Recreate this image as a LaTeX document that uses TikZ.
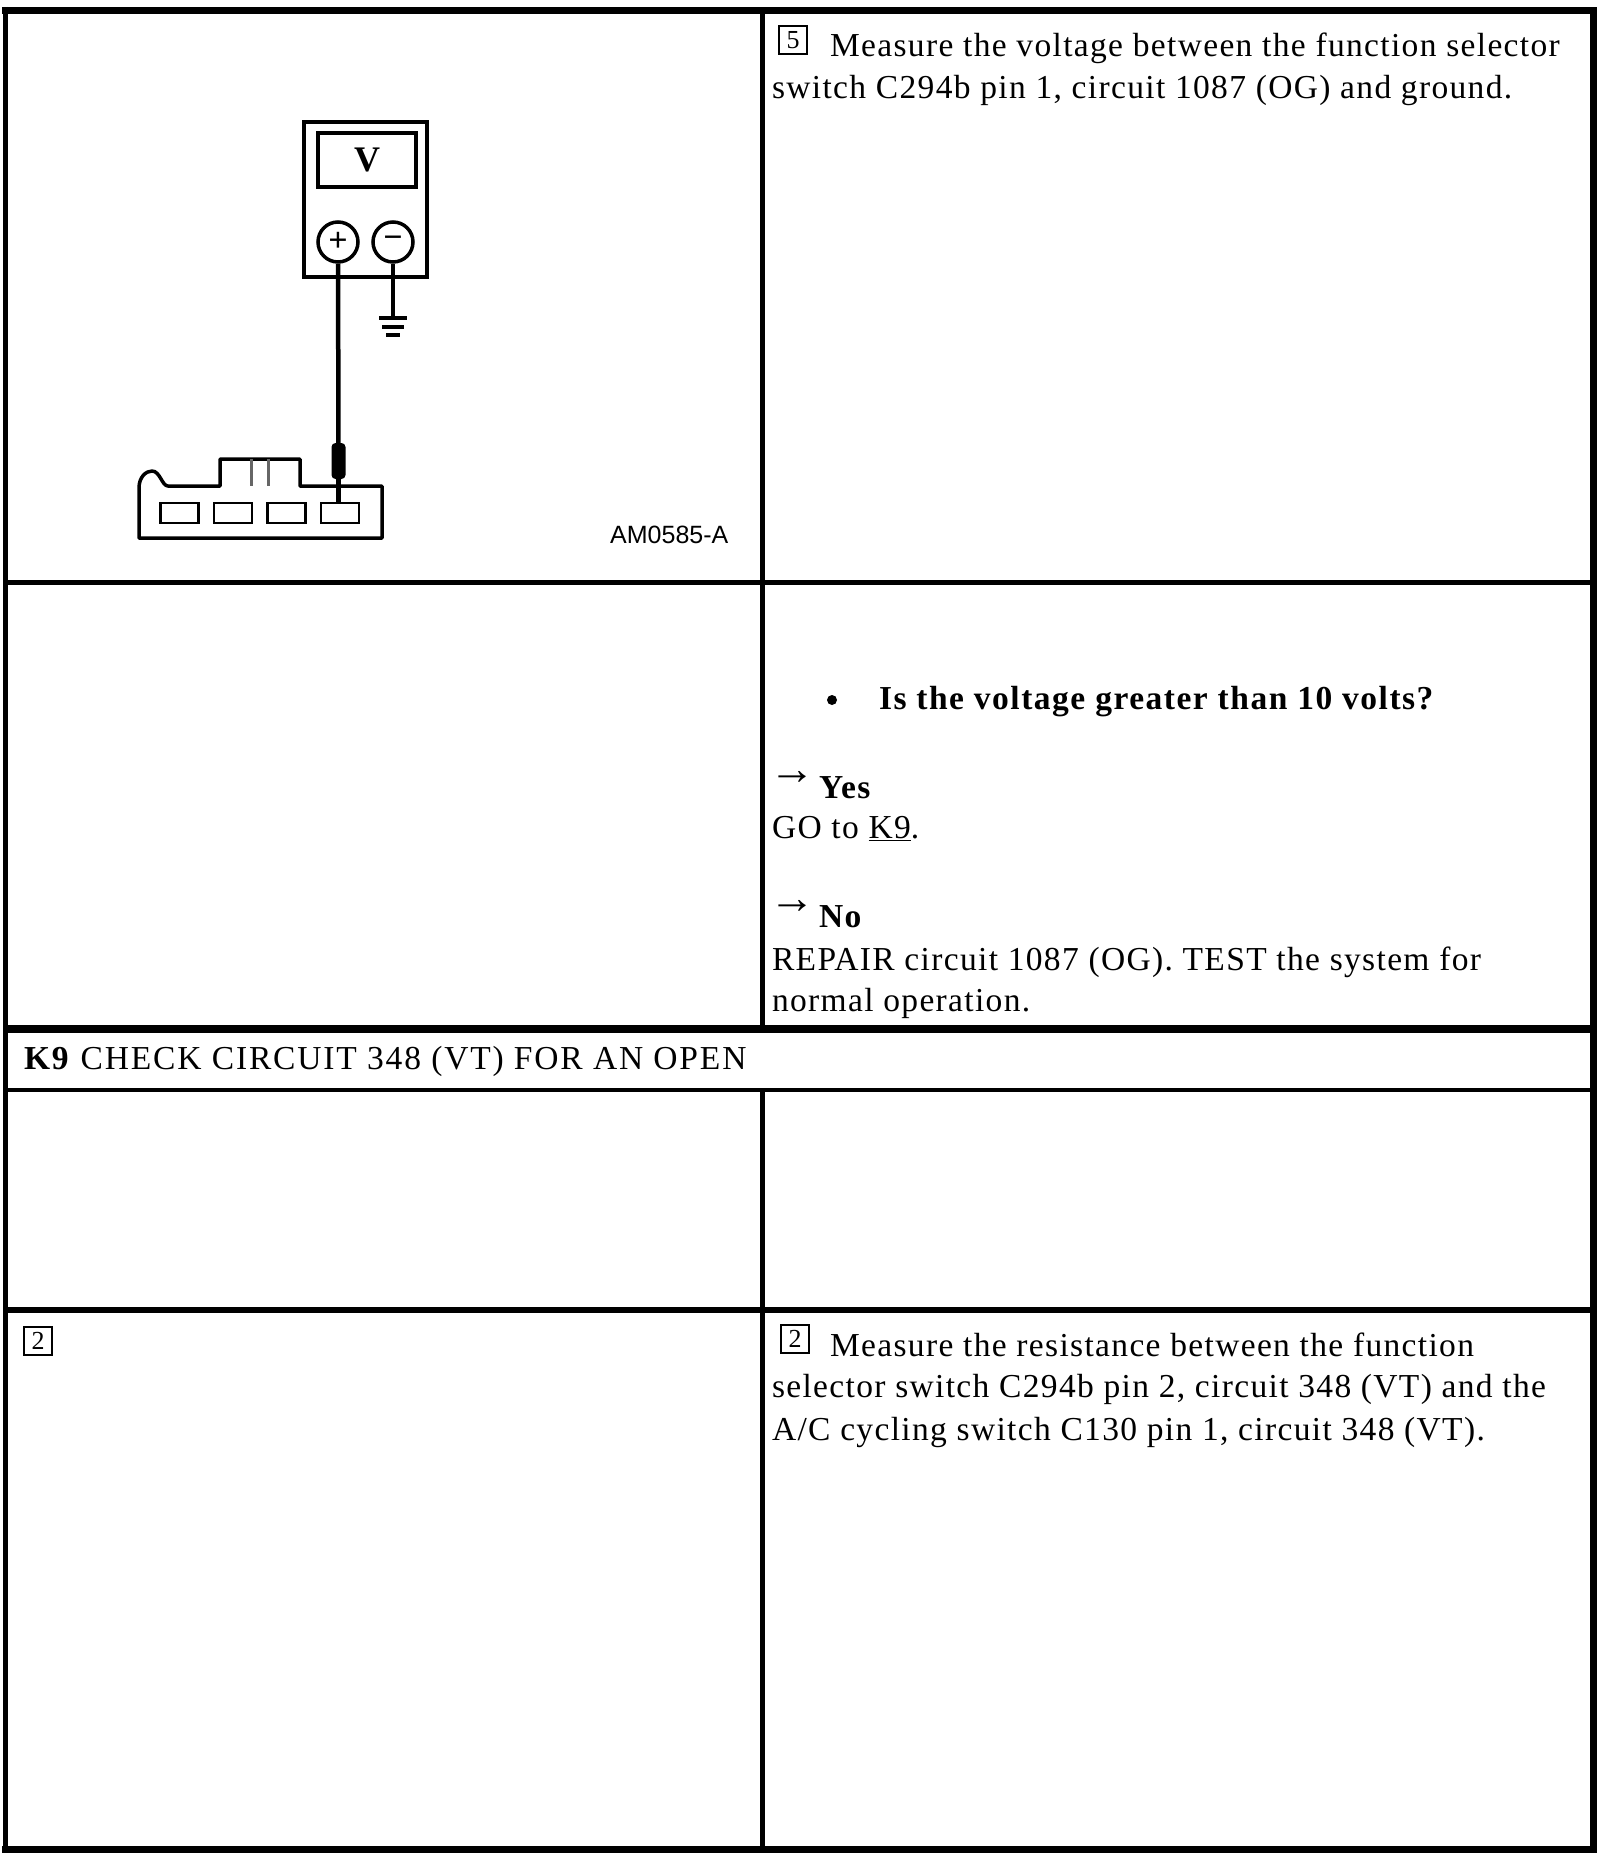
\documentclass[tikz,border=0pt]{standalone}
\usepackage{fontspec}
\setmainfont[LetterSpace=4.0]{Liberation Serif}
\newfontfamily\labelfont{Liberation Sans}
\newfontfamily\markfont{Liberation Serif}
\usetikzlibrary{calc}

\begin{document}
\begin{tikzpicture} [x=1pt, y=-1pt,
				rowline/.style={
				% The border:
				draw=black,
				line width=5pt
				},
				txt/.style={
				% The position:
				anchor=base west,
				inner sep=0pt,
				outer sep=0pt,
				% The font:
				font=\fontsize{33.5}{41}\selectfont
				},
				btxt/.style={
				txt,
				font=\fontsize{33.5}{41}\selectfont\bfseries\addfontfeature{LetterSpace=4.5}
				},
				headtxt/.style={
				txt,
				font=\fontsize{33.5}{41}\selectfont\addfontfeature{LetterSpace=5.5}
				},
				numbox/.style={
				% The shape:
				rectangle,
				% The size:
				minimum size=28pt,
				inner sep=0pt,
				% The border:
				draw=black,
				line width=2.5pt,
				font=\fontsize{26}{26}\selectfont
				},
				arrowmark/.style={
				anchor=center,
				inner sep=0pt,
				font=\fontsize{46}{46}\selectfont\markfont
				},
				meter/.style={
				rectangle,
				draw=black,
				line width=3.5pt,
				inner sep=0pt
				},
				jack/.style={
				circle,
				draw=black,
				line width=3.5pt,
				minimum size=40pt,
				inner sep=0pt,
				font=\fontsize{34}{34}\selectfont\bfseries\markfont
				},
				pinbox/.style={
				rectangle,
				draw=black,
				line width=2.2pt,
				minimum width=38pt,
				minimum height=20pt,
				inner sep=0pt
				},
				lead/.style={
				draw=black,
				line width=4.5pt
				},
				]
    \useasboundingbox (0,0) rectangle (1600,1860);
    % table corners
    \coordinate (tl) at (5.5,10.5);
    \coordinate (br) at (1593.5,1849.5);
    \coordinate (midt) at (762.5,10.5);
    \coordinate (midk) at (762.5,1029);
    \coordinate (midl) at (762.5,1089.5);
    \coordinate (midb) at (762.5,1849.5);
    % table frame and rows
    \draw [line width=6.5pt, line cap=rect] (tl) -- (br |- tl) -- (br) -- (tl |- br);
    \draw [rowline] (tl |- 0,7) -- (tl |- 0,1853);
    \draw [rowline] (tl |- 0,582.5) -- (br |- 0,582.5);
    \draw [rowline, line width=7.5pt] (tl |- 0,1029) -- (br |- 0,1029);
    \draw [rowline, line width=4pt] (tl |- 0,1089.5) -- (br |- 0,1089.5);
    \draw [rowline, line width=6pt] (tl |- 0,1310) -- (br |- 0,1310);
    \draw [rowline] (midt) -- (midk);
    \draw [rowline] (midl) -- (midb);

    % the meter
    \node [meter, minimum width=123pt, minimum height=155pt] (meterbody) at (365.5,199.5) {};
    \node [meter, minimum width=98pt, minimum height=54pt,
           font=\fontsize{36}{36}\selectfont\bfseries\markfont] (window) at (367,160) {V};
    \node [jack] (plus) at (338,242) {+};
    \node [jack] (minus) at (393,242) {−};
    \coordinate (gnd) at (393,318);
    \draw [lead, line width=3.5pt] (minus) -- (gnd);
    \draw [lead, line width=3.5pt] ($(gnd)+(-14,0)$) -- ($(gnd)+(14,0)$);
    \draw [lead, line width=3.5pt] ($(gnd)+(-11,9)$) -- ($(gnd)+(11,9)$);
    \draw [lead, line width=3.5pt] ($(gnd)+(-7,17)$) -- ($(gnd)+(7,17)$);

    % the connector
    \draw [line width=3.5pt, line join=round] (139,538) -- (139,488) .. controls (139,477) and (146,471) .. (152,471)
        .. controls (160,471) and (162,486) .. (168,486) -- (220,486) -- (220,459) -- (300,459) -- (300,486)
        -- (382,486) -- (382,538) -- cycle;
    \draw [draw=black!60, line width=3pt] (251,459) -- (251,486);
    \draw [draw=black!60, line width=3pt] (268,459) -- (268,486);
    \foreach \i/\px in {1/179.5, 2/233, 3/286.5, 4/340} {
        \node [pinbox] (pin\i) at (\px,513) {};
    }
    \node [rectangle, rounded corners=4pt, fill=black, minimum width=14pt, minimum height=36pt, inner sep=0pt] (probe) at (338.5,461) {};
    \draw [lead] (plus) -- (probe);
    \draw [lead] (probe) -- (pin4.north -| probe);

    \node [anchor=base west, inner sep=0pt, font=\fontsize{25}{25}\selectfont\labelfont] (drawno) at (610,543) {AM0585-A};

    % first row
    \node [numbox] (stepfive) at (793,40) {5};
    \node [txt] (measa) at (830,57) {Measure the voltage between the function selector};
    \node [txt] (measb) at (772,98) {switch C294b pin 1, circuit 1087 (OG) and ground.};

    % second row
    \node [circle, fill=black, minimum size=10pt, inner sep=0pt] (dot) at (832,700) {};
    \node [btxt] (question) at (879,709) {Is the voltage greater than 10 volts?};
    \node [arrowmark] (yesarrow) at (792,778) {→};
    \node [btxt] (yes) at (819,798) {Yes};
    \node [txt] (goto) at (772,838) {GO to \underline{K9}.};
    \node [arrowmark] (noarrow) at (792,907) {→};
    \node [btxt] (no) at (819,927) {No};
    \node [txt] (repair) at (772,970) {REPAIR circuit 1087 (OG). TEST the system for};
    \node [txt] (normal) at (772,1011) {normal operation.};

    % K9 row
    \node [headtxt] (head) at (24,1069) {\textbf{K9} CHECK CIRCUIT 348 (VT) FOR AN OPEN};

    % last row
    \node [numbox] (stepleft) at (38,1341) {2};
    \node [numbox] (stepright) at (795,1339) {2};
    \node [txt] (resa) at (830,1356) {Measure the resistance between the function};
    \node [txt] (resb) at (772,1397) {selector switch C294b pin 2, circuit 348 (VT) and the};
    \node [txt] (resc) at (772,1440) {A/C cycling switch C130 pin 1, circuit 348 (VT).};
\end{tikzpicture}
\end{document}
